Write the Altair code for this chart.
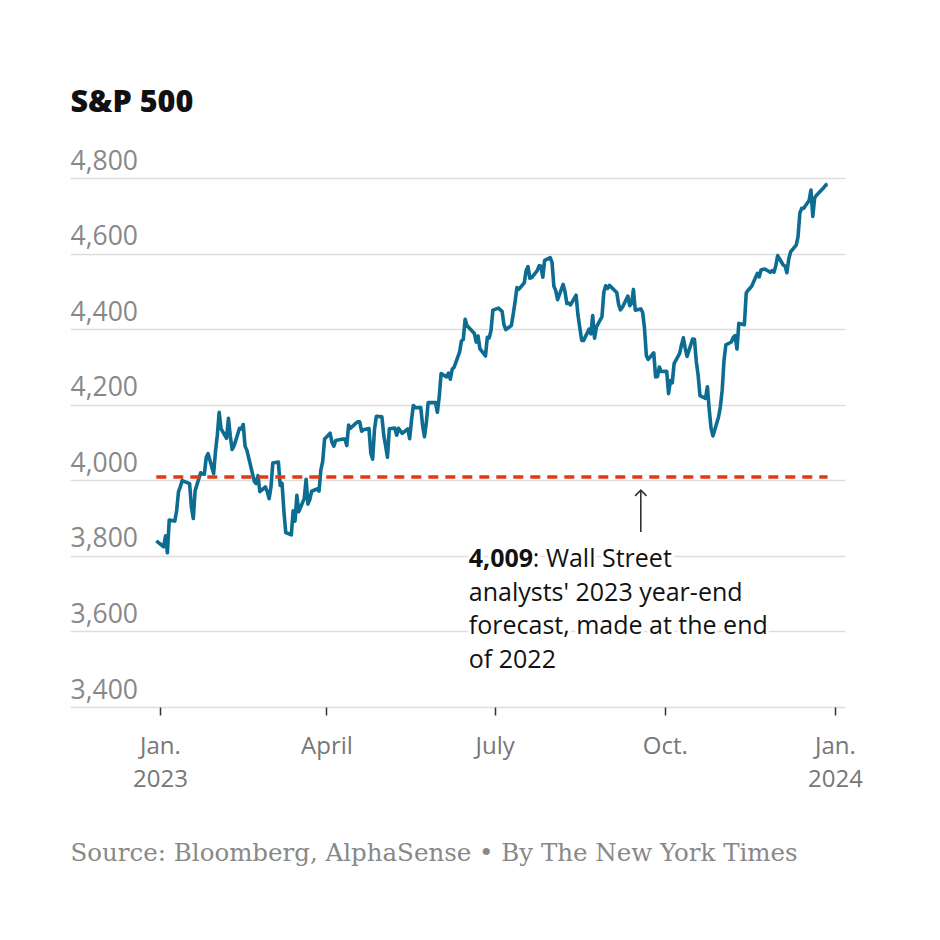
import altair as alt
import pandas as pd

# S&P 500 daily closes (Dec 30, 2022 to Dec 28, 2023)
dec_2022 = [3839.50]
jan = [3824.14, 3852.97, 3808.10, 3895.08, 3892.09, 3919.25, 3969.61, 3983.17, 3999.09, 3990.97,
       3928.86, 3898.85, 3972.61, 4019.81, 4016.95, 4016.22, 4060.43, 4070.56, 4017.77, 4076.60]
feb = [4119.21, 4179.76, 4136.48, 4111.08, 4164.00, 4117.86, 4081.50, 4090.46, 4137.29, 4136.13,
       4147.60, 4090.41, 4079.09, 3997.34, 3991.05, 4012.32, 3970.04, 3982.24, 3970.15]
mar = [3951.39, 3981.35, 4045.64, 4048.42, 3986.37, 3992.01, 3918.32, 3861.59, 3855.76, 3919.29,
       3891.93, 3960.28, 3916.64, 3951.57, 4002.87, 3936.97, 3948.72, 3970.99, 3977.53, 3971.27,
       4027.81, 4050.83, 4109.31]
apr = [4124.51, 4100.60, 4090.38, 4105.02, 4109.11, 4108.94, 4091.95, 4146.22, 4137.64, 4151.32,
       4154.87, 4154.52, 4129.79, 4133.52, 4137.04, 4071.63, 4055.99, 4135.35, 4169.48]
may = [4167.87, 4119.58, 4090.75, 4061.22, 4136.25, 4138.12, 4119.17, 4137.64, 4130.62, 4124.08,
       4136.28, 4109.90, 4158.77, 4198.05, 4191.98, 4192.63, 4145.58, 4115.24, 4151.28, 4205.45,
       4205.52, 4179.83]
jun = [4221.02, 4282.37, 4273.79, 4283.85, 4267.52, 4293.93, 4298.86, 4338.93, 4369.01, 4372.59,
       4425.84, 4409.59, 4388.71, 4365.69, 4381.89, 4348.33, 4328.82, 4378.41, 4376.86, 4396.44,
       4450.38]
jul = [4455.59, 4446.82, 4411.59, 4398.95, 4409.53, 4439.26, 4472.16, 4510.04, 4505.42, 4522.79,
       4554.98, 4565.72, 4534.87, 4536.34, 4554.64, 4567.46, 4566.75, 4537.41, 4582.23, 4588.96]
aug = [4576.73, 4513.39, 4501.89, 4478.03, 4518.44, 4499.38, 4467.71, 4468.83, 4464.05, 4489.72,
       4437.86, 4404.33, 4370.36, 4369.71, 4399.77, 4387.55, 4436.01, 4376.31, 4405.71, 4433.31,
       4497.63, 4514.87, 4507.66]
sep = [4515.77, 4496.83, 4465.48, 4451.14, 4457.49, 4487.46, 4461.90, 4467.44, 4505.10, 4450.32,
       4453.53, 4443.95, 4402.20, 4330.00, 4320.06, 4337.44, 4273.53, 4274.51, 4299.70, 4288.05]
oct_ = [4288.39, 4229.45, 4263.75, 4258.19, 4308.50, 4335.66, 4358.24, 4376.95, 4349.61, 4327.78,
        4373.63, 4373.20, 4314.60, 4278.00, 4224.16, 4217.04, 4247.68, 4186.77, 4137.23, 4117.37,
        4166.82, 4193.80]
nov = [4237.86, 4317.78, 4358.34, 4365.98, 4378.38, 4382.78, 4347.35, 4415.24, 4411.55, 4495.70,
       4502.88, 4508.24, 4514.02, 4547.38, 4538.19, 4556.62, 4559.34, 4550.43, 4554.89, 4550.58,
       4567.80]
dec = [4594.63, 4569.78, 4567.18, 4549.34, 4585.59, 4604.37, 4622.44, 4643.70, 4707.09, 4719.55,
       4719.19, 4740.56, 4768.37, 4698.35, 4746.75, 4754.63, 4774.75, 4781.58, 4783.35]

market_holidays = ["2023-01-16", "2023-02-20", "2023-04-07", "2023-05-29", "2023-06-19",
                   "2023-07-04", "2023-09-04", "2023-11-23", "2023-12-25"]

forecast_value = 4009
y_ticks = [3400, 3600, 3800, 4000, 4200, 4400, 4600, 4800]

closes = dec_2022 + jan + feb + mar + apr + may + jun + jul + aug + sep + oct_ + nov + dec
days = [pd.Timestamp("2022-12-30")] + [
    d for d in pd.bdate_range("2023-01-03", "2023-12-28")
    if d.strftime("%Y-%m-%d") not in market_holidays
]
assert len(days) == len(closes)
df = pd.DataFrame({"date": [d.strftime("%Y/%m/%d") for d in days], "close": closes})

SANS = "Open Sans"
SERIF = "DejaVu Serif"

x_scale = alt.Scale(domain=[alt.DateTime(year=2022, month=11, date=13, hours=8),
                            alt.DateTime(year=2024, month=1, date=6, hours=10)])
y_scale = alt.Scale(domain=[3400, 4800], nice=False, zero=False)

x_axis = alt.Axis(
    values=[alt.DateTime(year=2023, month=1, date=1), alt.DateTime(year=2023, month=4, date=1),
            alt.DateTime(year=2023, month=7, date=1), alt.DateTime(year=2023, month=10, date=1),
            alt.DateTime(year=2024, month=1, date=1)],
    labelExpr="month(datum.value) == 0 ? ['Jan.', timeFormat(datum.value, '%Y')] : "
              "(month(datum.value) == 3 ? 'April' : (month(datum.value) == 6 ? 'July' : 'Oct.'))",
    domain=False, grid=False, ticks=True, tickSize=8, tickColor="#333", tickWidth=1.5,
    labelFont=SANS, labelFontSize=24, labelColor="#777", labelPadding=19, labelLineHeight=33,
    labelOverlap=False, labelFlush=False,
    title="Source: Bloomberg, AlphaSense • By The New York Times",
    titleFont=SERIF, titleFontSize=24.5, titleFontWeight="normal", titleColor="#888",
    titleAnchor="start", titleAlign="left", titleBaseline="alphabetic", titleX=0, titleY=153,
)
y_axis = alt.Axis(
    values=y_ticks, format=",.0f", grid=True, gridColor="#ddd", gridWidth=1.5,
    domain=False, ticks=False, tickSize=0,
    labelAlign="left", labelBaseline="alphabetic", labelOffset=-9, labelPadding=0,
    labelFont=SANS, labelFontSize=26.5, labelColor="#888", labelOverlap=False,
    title="S&P 500", titleAngle=0, titleAlign="left", titleBaseline="alphabetic",
    titleX=0, titleY=-67, titleFont=SANS, titleFontSize=30.5, titleFontWeight=800, titleColor="#111",
)

line = alt.Chart(df).mark_line(color="#0d6c91", strokeWidth=3.6, strokeJoin="round").encode(
    x=alt.X("date:T", scale=x_scale, axis=x_axis),
    y=alt.Y("close:Q", scale=y_scale, axis=y_axis),
)

forecast_df = pd.DataFrame({"start": [df["date"].iloc[0]], "end": [df["date"].iloc[-1]],
                            "value": [forecast_value]})
forecast = alt.Chart(forecast_df).mark_rule(color="#e03a14", strokeWidth=3.5, strokeDash=[10, 7]).encode(
    x="start:T", x2="end:T", y="value:Q"
)

arrow_df = pd.DataFrame({"date": ["2023/09/18"], "tip": [3974], "tail": [3863]})
arrow_shaft = alt.Chart(arrow_df).mark_rule(color="#333", strokeWidth=1.6).encode(
    x="date:T", y="tip:Q", y2="tail:Q"
)
arrow_head = alt.Chart(arrow_df).mark_point(
    shape="M -1 1 L 0 0 L 1 1", size=130, filled=False, color="#333", strokeWidth=1.6, opacity=1
).encode(x="date:T", y="tip:Q")

note_date = "2023/06/17"
bold_df = pd.DataFrame({"date": [note_date], "v": [3771], "t": ["4,009"]})
rest1_df = pd.DataFrame({"date": [note_date], "v": [3771], "t": [": Wall Street"]})
rest_df = pd.DataFrame({"date": [note_date], "v": [3681],
                        "t": [["analysts' 2023 year-end", "forecast, made at the end", "of 2022"]]})


def note(data, weight, dx, halo):
    kw = dict(align="left", baseline="alphabetic", font=SANS, fontSize=25, fontWeight=weight,
              dx=dx, lineHeight=33.5)
    if halo:
        kw.update(color="white", stroke="white", strokeWidth=6)
    else:
        kw.update(color="#121212")
    return alt.Chart(data).mark_text(**kw).encode(x="date:T", y="v:Q", text="t")


notes = []
for halo in (True, False):
    notes += [note(bold_df, "bold", 0, halo), note(rest1_df, "normal", 64, halo),
              note(rest_df, "normal", 0, halo)]

chart = alt.layer(line, forecast, arrow_shaft, arrow_head, *notes).properties(
    width=775, height=529,
    autosize=alt.AutoSizeParams(type="none"),
    padding={"left": 62, "top": 170, "right": 40, "bottom": 200},
    background="white",
).configure_view(stroke=None)

chart.save("out.html", embed_options={"renderer": "svg", "actions": False})
